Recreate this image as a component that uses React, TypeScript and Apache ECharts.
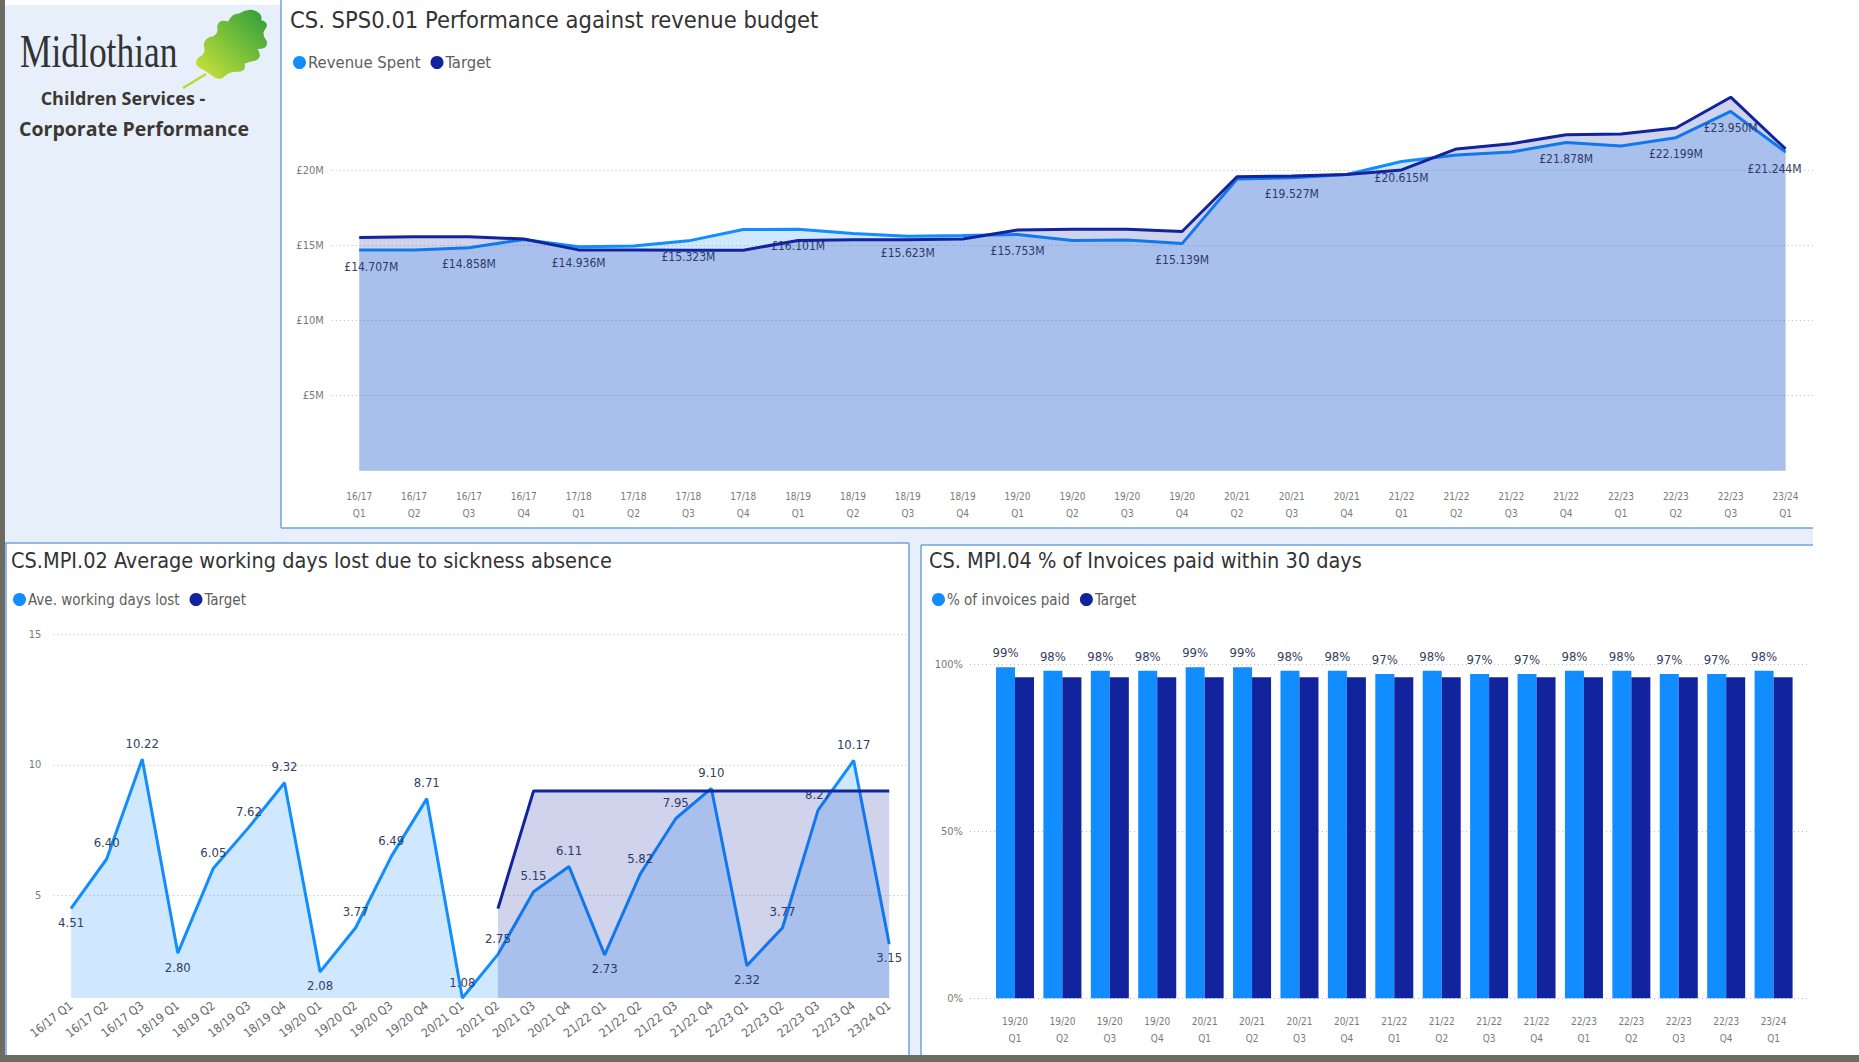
import React, { useEffect, useRef } from "react";
import * as echarts from "echarts";

const FONT = "'DejaVu Sans Condensed', 'DejaVu Sans', sans-serif";
const LIGHT = "#118DFF";
const DARK = "#12239E";
const LABEL_DARK = "#34405e";
const AXIS_GRAY = "#7a7a7a";
const BG_BLUE = "#E7F0FA";
const BORDER = "#6FA3DC";
const FRAME = "#6c6c63";

// ---------- Top chart: revenue (values in £M) ----------
const revenueQuarters = [
  "16/17 Q1", "16/17 Q2", "16/17 Q3", "16/17 Q4",
  "17/18 Q1", "17/18 Q2", "17/18 Q3", "17/18 Q4",
  "18/19 Q1", "18/19 Q2", "18/19 Q3", "18/19 Q4",
  "19/20 Q1", "19/20 Q2", "19/20 Q3", "19/20 Q4",
  "20/21 Q2", "20/21 Q3", "20/21 Q4",
  "21/22 Q1", "21/22 Q2", "21/22 Q3", "21/22 Q4",
  "22/23 Q1", "22/23 Q2", "22/23 Q3",
  "23/24 Q1",
];
const revenueSpent = [
  14.707, 14.72, 14.858, 15.42,
  14.936, 14.98, 15.323, 16.08,
  16.101, 15.82, 15.623, 15.68,
  15.753, 15.35, 15.38, 15.139,
  19.45, 19.527, 19.75,
  20.615, 21.05, 21.25, 21.878,
  21.65, 22.199, 23.95,
  21.244,
];
const revenueTarget = [
  15.55, 15.6, 15.6, 15.45,
  14.72, 14.72, 14.7, 14.7,
  15.35, 15.4, 15.4, 15.45,
  16.05, 16.1, 16.1, 15.95,
  19.6, 19.65, 19.75,
  20.05, 21.45, 21.8, 22.4,
  22.45, 22.85, 24.9,
  21.45,
];
const revenueLabelIdx = [0, 2, 4, 6, 8, 10, 12, 15, 17, 19, 22, 24, 25, 26];
const revenueTicks = [0, 5, 10, 15, 20, 25];

// ---------- Bottom-left: sickness absence ----------
const sicknessQuarters = [
  "16/17 Q1", "16/17 Q2", "16/17 Q3",
  "18/19 Q1", "18/19 Q2", "18/19 Q3", "18/19 Q4",
  "19/20 Q1", "19/20 Q2", "19/20 Q3", "19/20 Q4",
  "20/21 Q1", "20/21 Q2", "20/21 Q3", "20/21 Q4",
  "21/22 Q1", "21/22 Q2", "21/22 Q3", "21/22 Q4",
  "22/23 Q1", "22/23 Q2", "22/23 Q3", "22/23 Q4",
  "23/24 Q1",
];
const sicknessDays = [
  4.51, 6.40, 10.22,
  2.80, 6.05, 7.62, 9.32,
  2.08, 3.77, 6.49, 8.71,
  1.08, 2.75, 5.15, 6.11,
  2.73, 5.82, 7.95, 9.10,
  2.32, 3.77, 8.27, 10.17,
  3.15,
];
const sicknessTarget = [
  null, null, null,
  null, null, null, null,
  null, null, null, null,
  null, 4.5, 9, 9,
  9, 9, 9, 9,
  9, 9, 9, 9,
  9,
];
const sicknessLabelBelow = [0, 3, 7, 15, 19, 23];

// ---------- Bottom-right: invoices ----------
const invoiceQuarters = [
  "19/20 Q1", "19/20 Q2", "19/20 Q3", "19/20 Q4",
  "20/21 Q1", "20/21 Q2", "20/21 Q3", "20/21 Q4",
  "21/22 Q1", "21/22 Q2", "21/22 Q3", "21/22 Q4",
  "22/23 Q1", "22/23 Q2", "22/23 Q3", "22/23 Q4",
  "23/24 Q1",
];
const invoicesPaid = [99, 98, 98, 98, 99, 99, 98, 98, 97, 98, 97, 97, 98, 98, 97, 97, 98];
const invoiceTarget = [96, 96, 96, 96, 96, 96, 96, 96, 96, 96, 96, 96, 96, 96, 96, 96, 96];

const LEAF_D =
  "M28,76 Q14,70 22,60 Q30,56 28,48 Q26,36 38,34 Q44,30 42,22 Q44,12 54,16 Q58,6 66,6 Q74,0 82,2 Q92,6 90,14 Q100,18 94,26 Q90,32 96,40 Q98,50 86,50 Q92,60 84,64 Q76,66 72,68 Q74,78 64,78 Q56,78 52,82 Q46,90 38,84 Z";
echarts.graphic.registerShape("leaf", echarts.graphic.extendPath(LEAF_D, {}));

const dotted = { type: [1, 3], color: "#bdbdbd", width: 1 };

function borderLine(x1: number, y1: number, x2: number, y2: number) {
  return { type: "line", z: -96, silent: true, shape: { x1, y1, x2, y2 }, style: { stroke: BORDER, lineWidth: 1.5 } };
}

function buildOption() {
  const graphic = [
    { type: "rect", z: -100, silent: true, shape: { x: 0, y: 0, width: 1859, height: 1062 }, style: { fill: "#ffffff" } },
    { type: "rect", z: -99, silent: true, shape: { x: 5, y: 5, width: 1808, height: 1050 }, style: { fill: BG_BLUE } },
    { type: "rect", z: -98, silent: true, shape: { x: 281, y: 0, width: 1532, height: 528 }, style: { fill: "#ffffff" } },
    { type: "rect", z: -98, silent: true, shape: { x: 5, y: 543, width: 904, height: 512 }, style: { fill: "#ffffff" } },
    { type: "rect", z: -98, silent: true, shape: { x: 921, y: 545, width: 892, height: 510 }, style: { fill: "#ffffff" } },
    borderLine(281, 0, 281, 528),
    borderLine(281, 528, 1813, 528),
    borderLine(5, 543, 909, 543),
    borderLine(909, 543, 909, 1055),
    borderLine(6, 543, 6, 1055),
    borderLine(921, 545, 1813, 545),
    borderLine(921, 545, 921, 1055),
    { type: "rect", z: -95, silent: true, shape: { x: 0, y: 0, width: 5, height: 1062 }, style: { fill: FRAME } },
    { type: "rect", z: -95, silent: true, shape: { x: 0, y: 1055, width: 1859, height: 7 }, style: { fill: FRAME } },
    // logo
    {
      type: "text", z: 100, x: 20, y: 51, scaleX: 0.77,
      style: { text: "Midlothian", fill: "#333333", fontSize: 46, fontFamily: "'Liberation Serif', 'DejaVu Serif', serif", verticalAlign: "middle", align: "left" },
    },
    {
      type: "line", z: 100,
      shape: { x1: 183, y1: 88, x2: 206, y2: 74 },
      style: { stroke: "#b9d83a", lineWidth: 2.5 },
    },
    {
      type: "leaf", z: 101, x: 178.4, y: 8.6, scaleX: 0.92, scaleY: 0.81,
      style: {
        fill: new echarts.graphic.LinearGradient(0, 1, 1, 0, [
          { offset: 0, color: "#d3e43a" },
          { offset: 0.5, color: "#7cc23a" },
          { offset: 1, color: "#2c9a3c" },
        ]),
      },
    },
    {
      type: "text", z: 100, x: 123, y: 98,
      style: { text: "Children Services -", fill: "#3b3733", fontSize: 18, fontWeight: "bold", fontFamily: "'Open Sans', sans-serif", align: "center", verticalAlign: "middle" },
    },
    {
      type: "text", z: 100, x: 134, y: 128,
      style: { text: "Corporate Performance", fill: "#3b3733", fontSize: 19.5, fontWeight: "bold", fontFamily: "'Open Sans', sans-serif", align: "center", verticalAlign: "middle" },
    },
  ];

  const titleStyle = { fontFamily: FONT, fontSize: 21.5, fontWeight: "normal", color: "#333333" };
  const legendBase = {
    icon: "circle",
    itemWidth: 13,
    itemHeight: 13,
    itemGap: 10,
    padding: 0,
    selectedMode: false,
    itemStyle: { borderWidth: 0 },
    textStyle: { fontFamily: FONT, fontSize: 15, color: "#605e5c", padding: [0, 0, 0, -3] },
  };

  const axisLabelBase = { fontFamily: FONT, fontSize: 10, color: AXIS_GRAY };

  return {
    animation: false,
    graphic,
    title: [
      { text: "CS. SPS0.01 Performance against revenue budget", left: 290, top: 8, padding: 0, textStyle: { ...titleStyle, fontSize: 23.5 } },
      { text: "CS.MPI.02 Average working days lost due to sickness absence", left: 11, top: 549, padding: 0, textStyle: titleStyle },
      { text: "CS. MPI.04 % of Invoices paid within 30 days", left: 929, top: 549, padding: 0, textStyle: titleStyle },
    ],
    legend: [
      { ...legendBase, data: ["Revenue Spent", "Target"], left: 293, top: 54, textStyle: { ...legendBase.textStyle, fontSize: 16.5 } },
      { ...legendBase, data: ["Ave. working days lost", "Target"], left: 13, top: 592 },
      { ...legendBase, data: ["% of invoices paid", "Target"], left: 932, top: 592 },
    ],
    grid: [
      { left: 331.8, right: 46, top: 95.7, bottom: 591.3 },
      { left: 53.3, right: 952, top: 634.3, bottom: 64 },
      { left: 991.3, right: 61.7, top: 664, bottom: 63.7 },
      { left: 970, right: 51, top: 664, bottom: 63.7 },
    ],
    xAxis: [
      {
        type: "category", gridIndex: 0, data: revenueQuarters, boundaryGap: true,
        axisLine: { show: false }, axisTick: { show: false },
        axisLabel: { ...axisLabelBase, interval: 0, margin: 17, lineHeight: 17, formatter: (s: string) => s.replace(" ", "\n") },
      },
      {
        type: "category", gridIndex: 1, data: sicknessQuarters, boundaryGap: true,
        axisLine: { show: false }, axisTick: { show: false },
        axisLabel: { ...axisLabelBase, fontSize: 12, color: "#666666", interval: 0, rotate: 38, margin: 6 },
      },
      {
        type: "category", gridIndex: 2, data: invoiceQuarters, boundaryGap: true,
        axisLine: { show: false }, axisTick: { show: false },
        axisLabel: { ...axisLabelBase, interval: 0, margin: 15, lineHeight: 17, formatter: (s: string) => s.replace(" ", "\n") },
      },
      { type: "category", gridIndex: 3, data: [""], show: false },
    ],
    yAxis: [
      {
        type: "value", gridIndex: 0, min: revenueTicks[0], max: revenueTicks[revenueTicks.length - 1], interval: 5,
        axisLine: { show: false }, axisTick: { show: false },
        axisLabel: { ...axisLabelBase, fontSize: 11, margin: 8, showMinLabel: false, showMaxLabel: false, formatter: (v: number) => `£${v}M` },
        splitLine: { show: true, showMinLine: false, showMaxLine: false, lineStyle: dotted },
      },
      {
        type: "value", gridIndex: 1, min: "dataMin", max: 15, splitNumber: 3, minInterval: 5, maxInterval: 5,
        axisLine: { show: false }, axisTick: { show: false },
        axisLabel: { ...axisLabelBase, fontSize: 11, margin: 12, showMinLabel: false },
        splitLine: { show: true, showMinLine: false, lineStyle: dotted },
      },
      { type: "value", gridIndex: 2, min: 0, max: 100, show: false, splitLine: { show: false } },
      {
        type: "value", gridIndex: 3, min: 0, max: 100, interval: 50,
        axisLine: { show: false }, axisTick: { show: false },
        axisLabel: { ...axisLabelBase, fontSize: 11, margin: 7, formatter: (v: number) => `${v}%` },
        splitLine: { show: true, lineStyle: dotted },
      },
    ],
    series: [
      {
        type: "line", name: "Revenue Spent", xAxisIndex: 0, yAxisIndex: 0,
        data: revenueSpent.map((v, i) => ({
          value: v,
          label: {
            show: revenueLabelIdx.includes(i),
            offset: i === 0 ? [12, 0] : i === revenueSpent.length - 1 ? [-11, 0] : [0, 0],
          },
        })),
        symbol: "circle", symbolSize: 1, showSymbol: true,
        lineStyle: { color: LIGHT, width: 3 },
        itemStyle: { color: LIGHT },
        areaStyle: { color: LIGHT, opacity: 0.2 },
        label: {
          position: "bottom", distance: 10, fontFamily: FONT, fontSize: 12, color: LABEL_DARK,
          formatter: (p: any) => `£${Number(p.value).toFixed(3)}M`,
        },
        z: 2,
      },
      {
        type: "line", name: "Target", xAxisIndex: 0, yAxisIndex: 0,
        data: revenueTarget, symbol: "none",
        lineStyle: { color: DARK, width: 3 },
        itemStyle: { color: DARK },
        areaStyle: { color: DARK, opacity: 0.2 },
        z: 3,
      },
      {
        type: "line", name: "Ave. working days lost", xAxisIndex: 1, yAxisIndex: 1,
        data: sicknessDays.map((v, i) => ({
          value: v,
          label: sicknessLabelBelow.includes(i) ? { position: "bottom", distance: 7 } : { position: "top", distance: 9 },
        })),
        symbol: "circle", symbolSize: 1, showSymbol: true,
        lineStyle: { color: LIGHT, width: 3 },
        itemStyle: { color: LIGHT },
        areaStyle: { color: LIGHT, opacity: 0.2 },
        label: {
          show: true, fontFamily: FONT, fontSize: 13, color: LABEL_DARK,
          formatter: (p: any) => Number(p.value).toFixed(2),
        },
        z: 2,
      },
      {
        type: "line", name: "Target", xAxisIndex: 1, yAxisIndex: 1,
        data: sicknessTarget, symbol: "none", connectNulls: false,
        lineStyle: { color: DARK, width: 3 },
        itemStyle: { color: DARK },
        areaStyle: { color: DARK, opacity: 0.2 },
        z: 3,
      },
      {
        type: "bar", name: "% of invoices paid", xAxisIndex: 2, yAxisIndex: 2,
        data: invoicesPaid, barWidth: 19, barGap: "0%",
        itemStyle: { color: LIGHT },
        label: {
          show: true, position: "top", distance: 8, fontFamily: FONT, fontSize: 13, color: LABEL_DARK,
          formatter: (p: any) => `${p.value}%`,
        },
      },
      {
        type: "bar", name: "Target", xAxisIndex: 2, yAxisIndex: 2,
        data: invoiceTarget, barWidth: 19, barGap: "0%",
        itemStyle: { color: DARK },
      },
    ],
  };
}

export default function App() {
  const ref = useRef<HTMLDivElement>(null);
  useEffect(() => {
    if (!ref.current) return;
    const chart = echarts.init(ref.current, undefined, { renderer: "svg" });
    chart.setOption(buildOption() as any);
    return () => chart.dispose();
  }, []);
  return (
    <div
      ref={ref}
      style={{ position: "fixed", left: 0, top: 0, width: 1859, height: 1062, background: "#ffffff" }}
    />
  );
}
